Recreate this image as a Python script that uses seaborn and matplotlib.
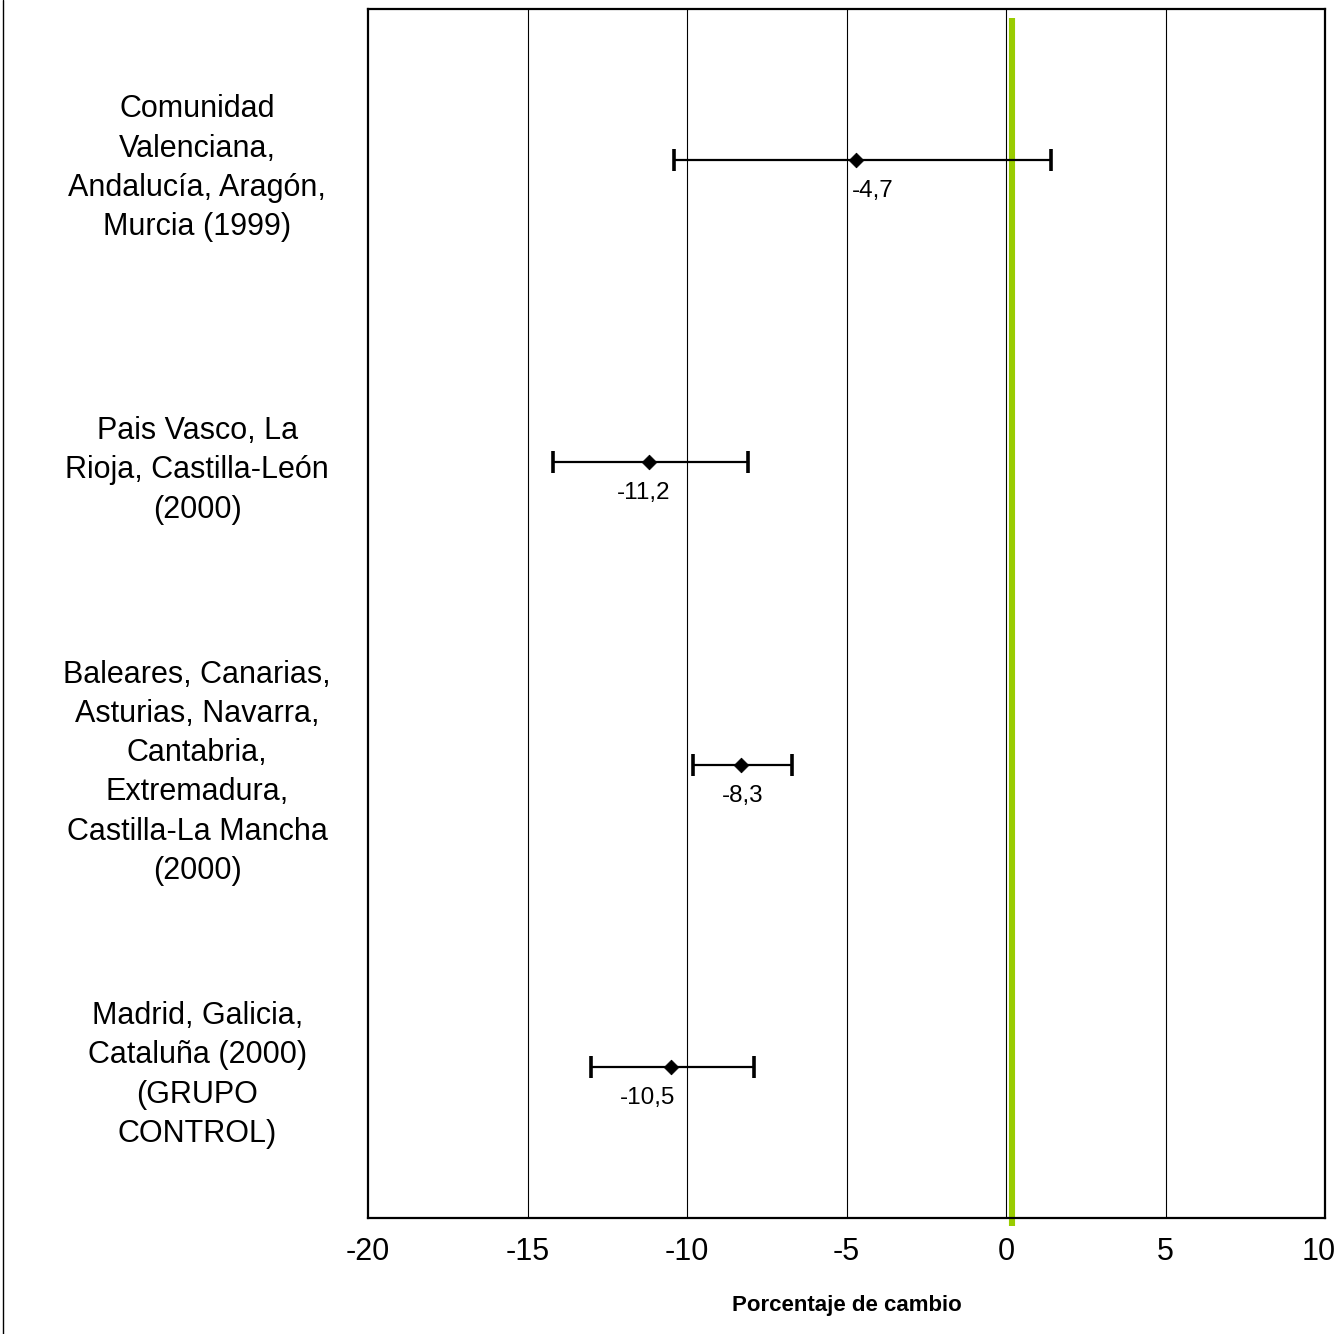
import matplotlib
matplotlib.use("Agg")
import matplotlib.pyplot as plt
from matplotlib.lines import Line2D
from matplotlib.transforms import ScaledTranslation
import seaborn as sns
import pandas as pd

# Regional groups, point estimates and 95% interval bounds (percent change)
grupos = [
    "Comunidad\nValenciana,\nAndalucía, Aragón,\nMurcia (1999)",
    "Pais Vasco, La\nRioja, Castilla-León\n(2000)",
    "Baleares, Canarias,\nAsturias, Navarra,\nCantabria,\nExtremadura,\nCastilla-La Mancha\n(2000)",
    "Madrid, Galicia,\nCataluña (2000)\n(GRUPO\nCONTROL)",
]
cambio = [-4.7, -11.2, -8.3, -10.5]
ic_inf = [-10.4, -14.2, -9.8, -13.0]
ic_sup = [1.4, -8.1, -6.7, -7.9]
etiquetas = ["-4,7", "-11,2", "-8,3", "-10,5"]
referencia = 0.2
xticks = [-20, -15, -10, -5, 0, 5, 10]

df = pd.DataFrame({"grupo": grupos, "cambio": cambio,
                   "inf": ic_inf, "sup": ic_sup, "etiqueta": etiquetas})
df["pos"] = range(len(df))

sns.set_style("white")
plt.rcParams["font.family"] = ["Liberation Sans", "DejaVu Sans"]

fig = plt.figure(figsize=(13.4, 13.34), dpi=100)
ax = fig.add_axes([368 / 1340, 1 - 1218 / 1334, (1325 - 368) / 1340, (1218 - 9) / 1334])

# vertical gridlines
for t in xticks[1:-1]:
    ax.axvline(t, color="black", lw=0.8, zorder=1)

# confidence intervals
ax.errorbar(df["cambio"], df["pos"],
            xerr=[df["cambio"] - df["inf"], df["sup"] - df["cambio"]],
            fmt="none", ecolor="black", elinewidth=1.6,
            capsize=8, capthick=2.6, zorder=3)

# point estimates
sns.scatterplot(data=df, x="cambio", y="pos", marker="D", s=55,
                color="black", edgecolor="black", ax=ax, zorder=4, legend=False)

# value labels under each point
label_dx = [17, -5, 1, -23]
for i, row in df.iterrows():
    ax.annotate(row["etiqueta"], (row["cambio"], row["pos"]),
                xytext=(label_dx[i], -31), textcoords="offset pixels",
                ha="center", va="center", fontsize=17.5, color="black", zorder=5)

# reference line
ax.plot([referencia, referencia], [-0.47, 3.526], color="#99cc00",
        lw=4.4, solid_capstyle="butt", clip_on=False, zorder=2)

ax.set_xlim(-20, 10)
ax.set_ylim(3.5, -0.5)
ax.set_xticks(xticks)
ax.set_xticklabels([str(t) for t in xticks], fontsize=22, color="black")
ax.set_yticks(df["pos"])
ax.set_yticklabels(df["grupo"], fontsize=22, ha="center", color="black",
                   multialignment="center", linespacing=1.4)
ax.tick_params(axis="y", length=0, pad=123)
ax.tick_params(axis="x", direction="inout", length=12, width=1.5,
               color="black", pad=8)
ax.set_xlabel("Porcentaje de cambio", fontsize=16, fontweight="bold",
              labelpad=20, color="black")
ax.set_ylabel("")

# keep the rightmost tick label inside the figure edge
last = ax.get_xticklabels()[-1]
last.set_transform(last.get_transform() + ScaledTranslation(-6 / 100, 0, fig.dpi_scale_trans))

for sp in ax.spines.values():
    sp.set_visible(True)
    sp.set_color("black")
    sp.set_linewidth(1.6)

fig.add_artist(Line2D([3 / 1340, 3 / 1340], [0, 1], color="black", lw=1.0))

fig.savefig("out.png", dpi=100, facecolor="white")
